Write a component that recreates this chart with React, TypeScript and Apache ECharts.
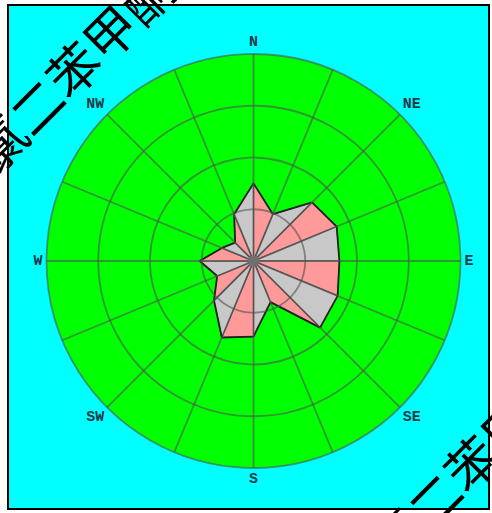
import React, { useEffect, useRef } from 'react';
import * as echarts from 'echarts';

// 16 compass sectors (degrees clockwise from north)
const directions = ['N', 'NNE', 'NE', 'ENE', 'E', 'ESE', 'SE', 'SSE', 'S', 'SSW', 'SW', 'WSW', 'W', 'WNW', 'NW', 'NNW'];
const directionAngles = [0, 22.5, 45, 67.5, 90, 112.5, 135, 157.5, 180, 202.5, 225, 247.5, 270, 292.5, 315, 337.5];
// wind frequency per direction (radius units; outer ring = 20)
const frequencies = [7.5, 4.9, 8.0, 8.7, 8.3, 8.8, 9.1, 4.3, 7.3, 8.0, 5.4, 3.8, 5.2, 3.3, 2.5, 4.9];
// labelled compass points
const compassAngles = [0, 45, 90, 135, 180, 225, 270, 315];
const compassLabels = ['N', 'NE', 'E', 'SE', 'S', 'SW', 'W', 'NW'];
const radiusMax = 20;
const radiusStep = 5;
const sectorColors = ['#ff9a9a', '#c8c8c8'];
const watermarkText = '氯二苯甲酮';

export default function App() {
  const ref = useRef<HTMLDivElement>(null);
  useEffect(() => {
    if (!ref.current) return;
    const chart = echarts.init(ref.current, undefined, { renderer: 'svg' });
    const data = frequencies.map((f, i) => {
      const next = (i + 1) % frequencies.length;
      const nextAngle = next === 0 ? 360 : directionAngles[next];
      return [f, directionAngles[i], frequencies[next], nextAngle, i];
    });
    const gridColor = 'rgba(80,80,80,0.6)';
    const cx = 253.5;
    const cy = 261;
    const R = 207;
    chart.setOption({
      animation: false,
      backgroundColor: '#ffffff',
      polar: { center: [cx, cy], radius: R },
      radiusAxis: {
        min: 0,
        max: radiusMax,
        interval: radiusStep,
        z: 10,
        axisLine: { show: false },
        axisTick: { show: false },
        axisLabel: { show: false },
        splitLine: { show: true, lineStyle: { color: gridColor, width: 1.8 } },
      },
      angleAxis: {
        type: 'value',
        min: 0,
        max: 360,
        interval: 22.5,
        startAngle: 90,
        clockwise: true,
        z: 10,
        axisLine: { show: false },
        axisTick: { show: false },
        splitLine: { show: true, lineStyle: { color: gridColor, width: 1.8 } },
        axisLabel: {
          margin: 4,
          fontFamily: 'Liberation Mono',
          fontWeight: 'bold',
          fontSize: 15,
          color: '#1b3a48',
          formatter: (v: number) => {
            if (v >= 360) return '';
            const k = compassAngles.indexOf(v);
            return k >= 0 ? compassLabels[k] : '';
          },
        },
      },
      series: [
        {
          type: 'custom',
          coordinateSystem: 'polar',
          encode: { radius: 0, angle: 1 },
          z: 2,
          data,
          renderItem: (params: any, api: any) => {
            const c = api.coord([0, 0]);
            const p1 = api.coord([api.value(0), api.value(1)]);
            const p2 = api.coord([api.value(2), api.value(3)]);
            const idx = api.value(4);
            return {
              type: 'group',
              children: [
                {
                  type: 'polygon',
                  shape: { points: [c, p1, p2] },
                  style: { fill: sectorColors[idx % 2], stroke: '#5a5a5a', lineWidth: 1.2 },
                },
                {
                  type: 'line',
                  shape: { x1: p1[0], y1: p1[1], x2: p2[0], y2: p2[1] },
                  style: { stroke: '#222222', lineWidth: 1.8 },
                },
              ],
            };
          },
        },
      ],
      graphic: {
        elements: [
          {
            type: 'rect',
            z: -2,
            shape: { x: 8, y: 5, width: 481, height: 504 },
            style: { fill: '#00ffff', stroke: '#000000', lineWidth: 2 },
          },
          {
            type: 'circle',
            z: -1,
            shape: { cx, cy, r: R },
            style: { fill: '#00ff00' },
          },
          {
            type: 'circle',
            z: 20,
            shape: { cx, cy, r: 5.5 },
            style: { fill: '#6e6e6e' },
          },
          {
            type: 'text',
            z: 100,
            x: 72,
            y: 68,
            rotation: Math.PI / 4,
            style: {
              text: watermarkText,
              fontSize: 52,
              fontFamily: 'Noto Sans CJK SC',
              fill: '#000000',
              align: 'center',
              verticalAlign: 'middle',
            },
          },
          {
            type: 'text',
            z: 100,
            x: 470,
            y: 462,
            rotation: Math.PI / 4,
            style: {
              text: watermarkText,
              fontSize: 52,
              fontFamily: 'Noto Sans CJK SC',
              fill: '#000000',
              align: 'center',
              verticalAlign: 'middle',
            },
          },
        ],
      },
    });
    return () => chart.dispose();
  }, []);
  return (
    <div
      ref={ref}
      style={{ position: 'absolute', left: 0, top: 0, width: 492, height: 513 }}
    />
  );
}
